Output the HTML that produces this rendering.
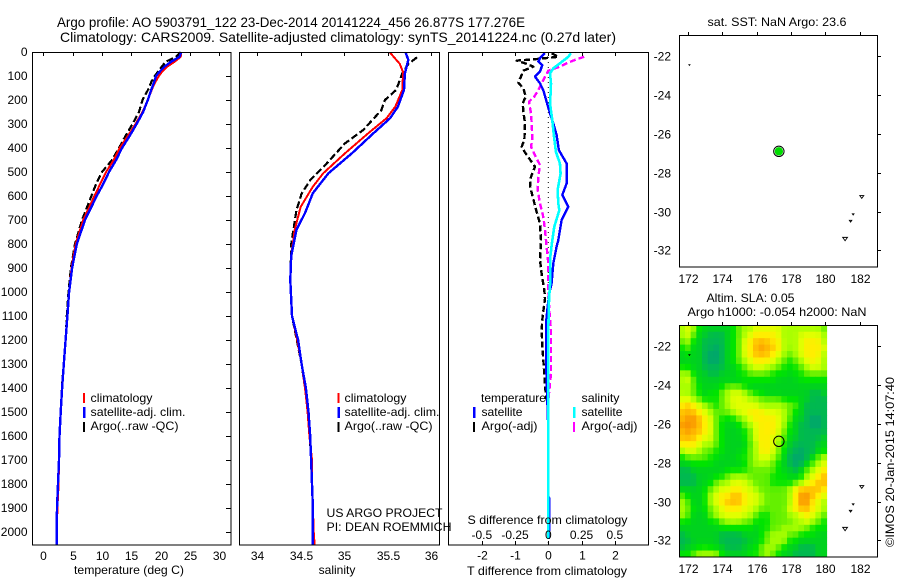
<!DOCTYPE html>
<html>
<head>
<meta charset="utf-8">
<title>Argo profile</title>
<style>
html,body{margin:0;padding:0;background:#fff;width:900px;height:580px;overflow:hidden}
svg{display:block}
text{font-family:"Liberation Sans",Arial,sans-serif;font-size:12px;fill:#000}
</style>
</head>
<body>
<svg id="fig" xmlns="http://www.w3.org/2000/svg" width="900" height="580" viewBox="0 0 900 580">
<text x="57" y="27" style="font-size:13.4px" textLength="468" lengthAdjust="spacingAndGlyphs">Argo profile: AO 5903791_122 23-Dec-2014 20141224_456 26.877S 177.276E</text>
<text x="60" y="42" style="font-size:14px" textLength="556" lengthAdjust="spacingAndGlyphs">Climatology: CARS2009. Satellite-adjusted climatology: synTS_20141224.nc (0.27d later)</text>

<g id="heat"></g>
<g id="marks"></g>
<g id="axes"></g>

<text x="74" y="574" textLength="110" lengthAdjust="spacingAndGlyphs">temperature (deg C)</text>
<text x="337" y="574" text-anchor="middle">salinity</text>
<text x="467" y="575" textLength="160" lengthAdjust="spacingAndGlyphs">T difference from climatology</text>
<text x="467.5" y="524" textLength="160" lengthAdjust="spacingAndGlyphs">S difference from climatology</text>

<g>
<rect x="83" y="393" width="2" height="10" fill="#ff0000"/>
<rect x="83" y="407" width="2.5" height="11" fill="#0000ff"/>
<rect x="83" y="422" width="2" height="10" fill="#000"/>
<text x="90.5" y="402" textLength="62" lengthAdjust="spacingAndGlyphs">climatology</text>
<text x="90.5" y="416" textLength="95" lengthAdjust="spacingAndGlyphs">satellite-adj. clim.</text>
<text x="90.5" y="430" textLength="88" lengthAdjust="spacingAndGlyphs">Argo(..raw -QC)</text>
</g>
<g>
<rect x="337.5" y="393" width="2" height="10" fill="#ff0000"/>
<rect x="337.5" y="407" width="2.5" height="11" fill="#0000ff"/>
<rect x="337.5" y="422" width="2" height="10" fill="#000"/>
<text x="344.5" y="402" textLength="62" lengthAdjust="spacingAndGlyphs">climatology</text>
<text x="344.5" y="416" textLength="95" lengthAdjust="spacingAndGlyphs">satellite-adj. clim.</text>
<text x="344.5" y="430" textLength="88" lengthAdjust="spacingAndGlyphs">Argo(..raw -QC)</text>
</g>
<text x="326.5" y="517" textLength="116" lengthAdjust="spacingAndGlyphs">US ARGO PROJECT</text>
<text x="326.5" y="531" textLength="125" lengthAdjust="spacingAndGlyphs">PI: DEAN ROEMMICH</text>
<g>
<text x="481" y="402" textLength="65" lengthAdjust="spacingAndGlyphs">temperature</text>
<text x="581.5" y="402" textLength="38" lengthAdjust="spacingAndGlyphs">salinity</text>
<rect x="473" y="407" width="2.5" height="11" fill="#0000ff"/>
<rect x="473" y="422" width="2" height="10" fill="#000"/>
<rect x="573" y="407" width="2.5" height="11" fill="#00ffff"/>
<rect x="573" y="422" width="2" height="10" fill="#ff00ff"/>
<text x="481.5" y="416" textLength="41" lengthAdjust="spacingAndGlyphs">satellite</text>
<text x="481.5" y="430" textLength="56" lengthAdjust="spacingAndGlyphs">Argo(-adj)</text>
<text x="581.5" y="416" textLength="41" lengthAdjust="spacingAndGlyphs">satellite</text>
<text x="581.5" y="430" textLength="56" lengthAdjust="spacingAndGlyphs">Argo(-adj)</text>
</g>

<text x="707.5" y="26" textLength="139" lengthAdjust="spacingAndGlyphs">sat. SST: NaN Argo: 23.6</text>
<text x="706.5" y="302" textLength="88" lengthAdjust="spacingAndGlyphs">Altim. SLA: 0.05</text>
<text x="687.5" y="316" textLength="179" lengthAdjust="spacingAndGlyphs">Argo h1000: -0.054 h2000: NaN</text>
<text transform="translate(894,547) rotate(-90)" textLength="170" lengthAdjust="spacingAndGlyphs">©IMOS 20-Jan-2015 14:07:40</text>
</svg>
<script>
// ---- profile data ----
const depths = [0,20,40,60,80,100,125,150,200,250,300,350,400,450,500,550,600,700,800,900,1000,1100,1200,1300,1400,1500,1600,1700,1800,1900,2000,2052];
const tempClim = [23.5,23.4,22.4,21.2,20.3,19.7,19.1,18.6,17.8,16.9,15.7,14.4,13.0,12.0,10.7,9.7,8.7,6.8,5.5,4.8,4.4,4.1,3.8,3.5,3.2,2.96,2.76,2.67,2.6,2.4,2.3,2.3];
const tempSat = [23.5,23.2,21.8,20.7,19.9,19.2,18.9,18.5,17.8,17.0,15.9,14.7,13.4,12.4,11.2,10.2,9.1,7.1,5.7,4.9,4.4,4.1,3.8,3.5,3.2,2.96,2.76,2.67,2.5,2.33,2.28,2.28];
const tempArgo = [23.4,22.6,20.9,20.2,19.6,19.0,18.4,18.0,16.9,16.3,15.2,14.0,12.9,11.7,10.0,9.0,8.2,6.6,5.4,4.7,4.3,4.0,3.8,3.5,3.15,2.96,2.76,2.67,2.5,2.33,2.28,2.28];
const salClimDepths = [3,28,49,84,158,228,276,338,422,505,561,645,742,850,950,1100,1200,1300,1400,1500,1600,1700,1800,1900,2000,2052];
const salClim = [35.53,35.59,35.64,35.68,35.67,35.59,35.49,35.28,35.01,34.76,34.64,34.50,34.43,34.39,34.38,34.40,34.46,34.51,34.55,34.58,34.60,34.63,34.63,34.64,34.65,34.66];
const salSatDepths = [3,33,89,158,228,276,338,422,505,588,671,742,850,950,1100,1200,1300,1400,1500,1600,1700,1800,1900,2000,2052];
const salSat = [35.71,35.74,35.70,35.69,35.62,35.53,35.34,35.09,34.82,34.64,34.55,34.45,34.39,34.38,34.40,34.47,34.51,34.56,34.59,34.61,34.62,34.63,34.64,34.64,34.64];
const salArgoDepths = [22,50,89,158,200,242,325,381,464,534,590,660,800,950,1100,1300,1500,1700,1900,2040];
const salArgo = [35.84,35.74,35.67,35.60,35.47,35.43,35.22,35.01,34.80,34.61,34.51,34.45,34.39,34.38,34.40,34.51,34.59,34.62,34.64,34.64];

// ---- difference-from-climatology data ----
const diffTSatDepths = [5,26,40,54,82,103,131,159,207,256,298,346,409,464,548,596,645,700,784,811,881,964,1006,1062,1131,1270,1368,1450,1576,1632,1850,1860,2030];
const diffTSat = [-0.10,-0.25,-0.30,-0.18,-0.25,-0.40,-0.25,-0.15,-0.05,0.05,0.15,0.25,0.32,0.55,0.55,0.42,0.60,0.40,0.30,0.25,0.15,0.10,0.03,-0.02,-0.07,-0.07,-0.05,-0.03,0,0,0,0.03,0.02];
const diffTArgoDepths = [5,20,31,36,47,61,78,128,152,186,214,249,298,364,395,423,478,520,562,596,652,715,784,867,923,992,1027,1103,1159,1242,1340,1395,1451];
const diffTArgo = [0.10,0.30,-0.45,-0.95,-0.70,-0.45,-0.75,-0.90,-0.75,-0.68,-0.77,-0.75,-0.70,-0.72,-0.80,-0.68,-0.40,-0.52,-0.55,-0.48,-0.38,-0.25,-0.22,-0.25,-0.20,-0.12,-0.10,-0.17,-0.20,-0.17,-0.12,-0.10,-0.05];
const diffSSatDepths = [5,20,47,68,89,131,172,214,284,353,416,464,506,575,631,659,728,784,853,950,1034,1159,1500,2030];
const diffSSat = [0.17,0.15,0.0875,0.0375,0.0125,0.02,0.0175,0.0125,0.03,0.0425,0.0575,0.0875,0.0925,0.07,0.075,0.0825,0.045,0.03,0.015,0.015,0.005,0,0,0];
const diffSArgoDepths = [20,33,47,61,78,103,131,159,186,207,256,298,360,395,430,471,520,575,631,687,742,784,881,992,1076,1159,1340,1423,1465];
const diffSArgo = [0.27,0.20,0.1375,0.0875,0,-0.025,-0.05,-0.075,-0.105,-0.145,-0.13,-0.125,-0.12,-0.13,-0.10,-0.0625,-0.075,-0.08,-0.0625,-0.0375,-0.025,-0.0175,0,0,0.0075,0.02,0.02,0.005,0];

// ---- tick labels ----
const depthTicks = [0,100,200,300,400,500,600,700,800,900,1000,1100,1200,1300,1400,1500,1600,1700,1800,1900,2000];
const tempTicks = [0,5,10,15,20,25,30];
const salTicks = [34,34.5,35,35.5,36];
const tDiffTicks = [-2,-1,0,1,2];
const sDiffTicks = [-0.5,-0.25,0,0.25,0.5];
const lonTicks = [172,174,176,178,180,182];
const latTicks = [-22,-24,-26,-28,-30,-32];

// ---- map data ----
const floatLon = 177.3;
const floatLat = -26.9;
const islandLons = [172.1,182.12,181.62,181.47,181.15];
const islandLats = [-22.45,-29.25,-30.15,-30.5,-31.42];
const islandSizes = [0.5,2,0.8,1.2,2.4];
// SLA colour class per cell, north to south
const slaGrid = [
[5,6,5,3,2,2,2,2,2,3,4,5,5,6,6,6,6,6,5,5,5,5,5,5,5,4],
[5,6,4,2,2,1,1,1,2,3,4,5,6,7,7,7,7,6,5,5,5,6,6,6,6,5],
[4,5,3,2,1,1,1,1,2,3,4,6,7,8,8,8,7,7,5,5,5,6,7,7,7,5],
[3,4,2,2,1,1,0,1,2,3,4,6,7,8,9,8,8,7,5,5,5,6,7,7,7,6],
[2,3,2,2,1,0,0,1,2,3,4,6,7,8,8,8,7,6,5,4,5,6,7,7,7,5],
[2,2,2,2,1,0,0,1,2,3,4,5,6,7,7,7,6,5,4,3,4,5,6,7,6,5],
[3,3,2,2,1,1,1,1,2,2,3,4,5,6,6,5,5,4,3,3,3,4,5,6,6,5],
[5,5,3,2,2,1,1,2,2,2,3,3,4,4,4,4,3,3,3,2,3,3,4,4,4,4],
[5,6,4,2,2,2,2,2,2,2,2,3,3,3,3,3,3,2,2,2,2,3,3,3,3,3],
[5,5,4,3,2,2,2,3,4,4,4,3,2,2,2,2,2,2,2,2,2,2,2,2,2,2],
[5,5,4,3,2,3,3,4,5,6,6,5,4,3,3,2,2,2,2,2,2,2,2,1,1,2],
[6,6,5,4,3,3,3,4,5,6,6,6,5,5,4,4,4,4,3,3,3,2,2,1,1,1],
[7,8,7,6,5,4,3,4,5,6,6,6,6,6,5,5,5,5,5,4,4,2,1,1,1,1],
[8,8,8,7,6,5,4,4,4,5,6,6,7,7,7,6,6,6,5,4,3,2,1,1,1,1],
[8,9,9,8,7,6,4,3,3,3,4,5,6,7,7,7,7,6,5,4,2,2,1,0,0,1],
[9,9,9,8,7,6,4,3,2,2,3,4,5,6,7,7,7,6,5,3,2,1,1,0,0,1],
[8,9,8,8,7,6,4,3,2,2,2,3,4,6,7,7,7,6,4,3,2,1,1,1,1,1],
[8,8,8,7,6,6,4,3,2,2,2,3,4,6,7,7,6,5,4,2,2,1,1,1,1,2],
[7,7,7,6,5,5,4,3,2,2,2,2,4,5,7,7,6,5,3,2,1,1,1,1,2,2],
[5,6,6,5,4,4,3,3,2,2,2,3,4,5,7,7,6,4,3,1,1,0,1,1,2,3],
[3,4,4,4,4,3,3,2,2,2,3,3,4,5,6,6,5,4,2,1,0,0,1,2,4,5],
[2,2,3,3,3,3,2,2,2,2,2,3,4,5,5,5,4,3,2,1,0,1,2,4,5,6],
[1,1,2,2,2,2,2,2,3,3,3,3,4,4,4,4,4,3,2,2,1,2,4,5,6,7],
[1,1,1,2,2,2,3,3,4,5,5,5,4,4,4,4,3,3,3,2,2,3,5,6,7,8],
[1,1,1,2,2,3,4,5,5,6,6,6,5,4,4,4,3,3,3,3,4,5,6,7,8,8],
[2,2,2,2,3,4,5,6,6,7,7,6,6,5,4,4,4,4,4,5,7,8,8,8,8,7],
[4,3,2,2,3,5,6,7,7,8,8,7,6,6,5,4,4,4,4,5,7,9,9,8,7,6],
[5,4,2,2,3,5,6,7,8,8,8,7,6,6,5,4,4,4,4,5,7,9,9,7,6,5],
[5,4,3,2,3,4,5,6,7,7,7,6,6,5,4,4,4,4,4,6,7,8,8,7,6,5],
[5,4,2,2,2,4,5,6,6,6,6,6,5,4,3,3,4,4,4,5,5,6,7,6,5,4],
[3,3,2,2,2,3,3,4,5,5,5,4,4,3,3,3,4,4,4,4,5,5,6,5,4,3],
[2,2,2,2,2,2,2,3,3,3,3,3,3,2,3,3,4,4,5,5,5,5,4,3,3,3],
[1,2,2,2,2,2,2,1,1,1,1,2,2,2,3,4,5,5,5,4,4,3,3,3,2,2],
[1,1,2,2,2,2,2,1,1,1,1,1,2,2,3,4,5,5,5,3,3,2,2,2,2,2],
[1,2,2,3,3,3,2,2,1,1,1,2,2,3,4,5,5,4,3,2,2,1,1,1,2,2],
[3,3,4,5,5,5,5,3,2,2,2,2,3,3,4,5,4,3,2,2,1,1,1,1,2,2]
];

// ---- axis functions ----
function xTemp(v){return 43.3+5.87*v;}
function xSal(v){return 257.3+86.8*(v-34);}
function xTDiff(v){return 548.3+33.25*v;}
function xSDiff(v){return 548.3+133*v;}
function yDepth(d){return 52+0.24*d;}
function xLon(v){return 687.7+17.2*(v-172);}
function yLatTop(v){return 56.3+19.4*(-22-v);}
function yLatBottom(v){return 346.3+19.4*(-22-v);}

const NS='http://www.w3.org/2000/svg';
const marks=document.getElementById('marks');
const axes=document.getElementById('axes');
const heat=document.getElementById('heat');
function make(tag,parent,props){
  const el=document.createElementNS(NS,tag);
  for(const k in props){el.setAttribute(k,props[k]);}
  parent.appendChild(el);
  return el;
}
function profile(vals,ds,xf,color,width,dash,name){
  const pts=vals.map(function(v,i){return xf(v).toFixed(1)+','+yDepth(ds[i]).toFixed(1);}).join(' ');
  const el=make('polyline',marks,{points:pts,fill:'none',stroke:color,'stroke-width':width,'stroke-linejoin':'round','shape-rendering':'crispEdges'});
  if(dash){el.setAttribute('stroke-dasharray',dash);}
  
  
}
function frame(x,y,w,h,name){
  const el=make('rect',axes,{x:x,y:y,width:w,height:h,fill:'none',stroke:'#000','stroke-width':1,'shape-rendering':'crispEdges'});
  
  
}
function tick(x1,y1,x2,y2){
  const el=make('line',axes,{x1:x1,y1:y1,x2:x2,y2:y2,stroke:'#000','stroke-width':1,'shape-rendering':'crispEdges'});
  
  
}
function label(x,y,txt,anchor){
  const el=make('text',axes,{x:x,y:y,'text-anchor':anchor});
  el.textContent=txt;
  
  
}

// SLA heat map: continuous colour ramp with a light neighbour blend for display
const slaRamp=[[0,165,110],[0,185,80],[0,210,30],[0,228,0],[100,240,0],[170,255,0],[225,255,0],[255,238,0],[255,190,0],[250,150,0]];
function slaColor(v){
  const i=Math.min(8,Math.max(0,Math.floor(v)));
  const f=Math.max(0,Math.min(1,v-i));
  const a=slaRamp[i], b=slaRamp[i+1];
  return 'rgb('+Math.round(a[0]+(b[0]-a[0])*f)+','+Math.round(a[1]+(b[1]-a[1])*f)+','+Math.round(a[2]+(b[2]-a[2])*f)+')';
}
function slaBlend(r,c){
  const R=slaGrid.length-1, C=slaGrid[0].length-1;
  const up=slaGrid[Math.max(0,r-1)][c], dn=slaGrid[Math.min(R,r+1)][c];
  const lf=slaGrid[r][Math.max(0,c-1)], rt=slaGrid[r][Math.min(C,c+1)];
  return (4*slaGrid[r][c]+up+dn+lf+rt)/8;
}
const heatLeft=679.3, heatTop=325.3, cellW=147.4/26, cellH=231.7/36;
slaGrid.forEach(function(row,r){
  row.forEach(function(v,c){
    const el=make('rect',heat,{x:(heatLeft+c*cellW).toFixed(2),y:(heatTop+r*cellH).toFixed(2),width:(cellW+0.4).toFixed(2),height:(cellH+0.4).toFixed(2),fill:slaColor(slaBlend(r,c))});
    
    
  });
});

// temperature panel
profile(tempArgo,depths,xTemp,'#000',2.2,'7 3','temperature-argo-line');
profile(tempClim,depths,xTemp,'#ff0000',2,null,'temperature-climatology-line');
profile(tempSat,depths,xTemp,'#0000ff',2.4,null,'temperature-satellite-line');
// salinity panel
profile(salArgo,salArgoDepths,xSal,'#000',2.2,'7 3','salinity-argo-line');
profile(salClim,salClimDepths,xSal,'#ff0000',2,null,'salinity-climatology-line');
profile(salSat,salSatDepths,xSal,'#0000ff',2.4,null,'salinity-satellite-line');
// difference panel
const zero=make('line',marks,{x1:xTDiff(0),y1:yDepth(0),x2:xTDiff(0),y2:yDepth(2050),stroke:'#000','stroke-width':1,'stroke-dasharray':'1 4'});


profile(diffTArgo,diffTArgoDepths,xTDiff,'#000',2.4,'6 3','t-difference-argo-line');
profile(diffSArgo,diffSArgoDepths,xSDiff,'#ff00ff',2.4,'6 3','s-difference-argo-line');
profile(diffTSat,diffTSatDepths,xTDiff,'#0000ff',2.4,null,'t-difference-satellite-line');
profile(diffSSat,diffSSatDepths,xSDiff,'#00ffff',2.6,null,'s-difference-satellite-line');

// frames
frame(32.5,52.5,198.5,492.5,'temperature-plot-frame');
frame(239.5,52.5,200,492.5,'salinity-plot-frame');
frame(448.5,52.5,200,492.5,'difference-plot-frame');
frame(679.5,35.5,198,231.5,'sst-map-frame');
frame(679.5,325.5,198,231.5,'sla-map-frame');

depthTicks.forEach(function(d){
  const y=Math.round(yDepth(d))+0.5;
  tick(226,y,231,y);
  label(27.5,y+3.5,String(d),'end');
});
tempTicks.forEach(function(v){
  const x=Math.round(xTemp(v))+0.5;
  tick(x,52,x,56);
  label(x,560,String(v),'middle');
});
salTicks.forEach(function(v){
  const x=Math.round(xSal(v))+0.5;
  tick(x,52,x,56);
  label(x,560,String(v),'middle');
});
tDiffTicks.forEach(function(v){
  const x=Math.round(xTDiff(v))+0.5;
  tick(x,52,x,56);
  tick(x,541,x,545);
  label(x,559.5,String(v),'middle');
});
sDiffTicks.forEach(function(v){
  label(xSDiff(v),539,String(v),'middle');
});
lonTicks.forEach(function(v){
  const x=Math.round(xLon(v))+0.5;
  tick(x,32,x,35);
  tick(x,322,x,325);
  label(x,283,String(v),'middle');
  label(x,573,String(v),'middle');
});
latTicks.forEach(function(v){
  const y1=Math.round(yLatTop(v))+0.5;
  const y2=Math.round(yLatBottom(v))+0.5;
  tick(878,y1,881,y1);
  tick(878,y2,881,y2);
  label(671,y1+4,String(v),'end');
  label(671,y2+4,String(v),'end');
});

// islands + float marker on both maps
[yLatTop,yLatBottom].forEach(function(yf){
  islandLons.forEach(function(lon,i){
    const s=islandSizes[i], cx=xLon(lon), cy=yf(islandLats[i]);
    const pts=(cx-s)+','+(cy-s*0.7)+' '+(cx+s)+','+(cy-s*0.7)+' '+cx+','+(cy+s*0.7);
    const el=make('polygon',axes,{points:pts,fill:'none',stroke:'#000','stroke-width':0.9});
    
    
  });
});
const floatRing=make('circle',axes,{cx:xLon(floatLon),cy:yLatTop(floatLat),r:5.2,fill:'#fff',stroke:'#000','stroke-width':1});


const floatTop=make('circle',axes,{cx:xLon(floatLon),cy:yLatTop(floatLat),r:4.2,fill:'#00dd00'});


const floatBottom=make('circle',axes,{cx:xLon(floatLon),cy:yLatBottom(floatLat),r:5.2,fill:'none',stroke:'#000','stroke-width':1});


</script>
</body>
</html>
